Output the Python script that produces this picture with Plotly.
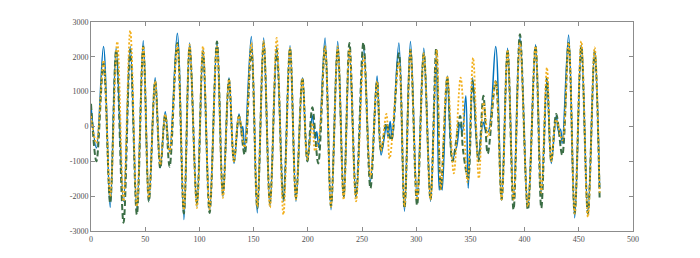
import plotly.graph_objects as go

# Extrema (x, value)
blue_x = [0, 5, 11.5, 17.7, 23.2, 30, 36.2, 42.3, 48.2, 53.4, 59.2, 63.9, 68.5, 72.5,
          79.6, 85.7, 91, 97.7, 103.3, 109.4, 116.2, 121.7, 127.3, 131.9, 136.5, 139, 140, 141.7,
          147.9, 153.4, 159.3, 165.1, 171.3, 177.5, 183.6, 189.1, 195, 199.6, 204.2, 206.7, 208.3, 210,
          215.9, 221.4, 227.6, 233.1, 238.4, 244.5, 251.6, 257.8, 263.9, 267.6, 272.5, 274, 276, 277.8,
          284, 289.2, 294.7, 300.8, 307, 313.2, 318.5, 321.2, 322.6, 324, 328.7, 333.5, 337.5, 340.3, 342.6, 345.8, 348,
          352, 357.2, 361.8, 364, 366.4, 373.3, 378.8, 384.3, 389.8, 395.7, 403, 410.1, 415.4, 420.6, 424.6,
          429.2, 431.3, 433, 434.7, 440.6, 446.2, 452.3, 458.4, 464.6, 469.2]
blue_y = [580, -620, 2300, -2320, 2250, -2150, 2300, -2390, 2460, -2130, 1400, -1185, 420, -730,
          2680, -2670, 2400, -2290, 2200, -2430, 2440, -2010, 1400, -1060, 360, -130, 0, -635,
          2585, -2480, 2540, -2290, 2300, -2150, 2320, -2150, 1400, -1010, 310, -350, -150, -600,
          2540, -2390, 2440, -2035, 2110, -2055, 2250, -1580, 1450, -820, 30, -300, 140, -350,
          2400, -2430, 2440, -2035, 2250, -2150, 2050, -1820, -1500, -1820, 1450, -920, -550, 75, -160, 880, -1770,
          1400, -920, 120, -100, -150, 2300, -2100, 2250, -2010, 2585, -2290, 2350, -1910, 1350, -1060,
          310, -130, -80, -490, 2630, -2620, 2350, -2480, 2200, -1770]

orange_x = [0, 5, 11.5, 17.7, 24.2, 30, 36.2, 42.3, 48.2, 53.4, 59.2, 63.9, 68.5, 72.5,
            79.6, 85.7, 91, 97.7, 103.3, 109.4, 116.2, 121.7, 127.3, 131.9, 136.5, 141.7,
            147.9, 153.4, 159.3, 165.1, 171.3, 177.5, 183.6, 189.1, 195, 199.6, 204.2, 206.7, 210,
            215.9, 221.4, 227.6, 233.1, 238.4, 244.5, 251.6, 257.8, 263.9, 267.6, 272.5, 275.5,
            284, 289.2, 294.7, 300.8, 307, 313.2, 319, 322.7, 328.7, 334.7, 341, 347.4,
            352.5, 357.8, 362.2, 366.4, 373.3, 378.8, 384.3, 389.8, 395.7, 403, 410.1, 415.4, 420.6, 424.6,
            429.2, 434.7, 440.6, 446.2, 452.3, 458.4, 464.6, 469.2]
orange_y = [300, -480, 1900, -2010, 2440, -2150, 2755, -2300, 2300, -2050, 1300, -1100, 350, -750,
            2350, -2400, 2350, -2340, 2300, -2380, 2300, -2050, 1350, -1000, 300, -600,
            2400, -2300, 2450, -2320, 2540, -2530, 2250, -2100, 1350, -950, 100, -700, -400,
            2300, -2300, 2300, -2100, 2200, -2150, 2000, -1450, 1300, -700, 360, -920,
            1850, -2300, 2200, -2100, 2100, -2100, 2200, -1800, 1450, -1345, 1400, -1600,
            1970, -1490, 690, -300, 1300, -2100, 2200, -2100, 2400, -2300, 2300, -1900, 1690, -1000,
            200, -400, 2400, -2500, 2450, -2600, 2270, -1900]

green_x = [0, 5, 11.5, 17.7, 23.2, 30, 36.2, 42.3, 48.2, 53.4, 59.2, 63.9, 68.5, 72.5,
           79.6, 85.7, 91, 97.7, 103.3, 109.4, 116.2, 121.7, 127.3, 131.9, 136.5, 141.7,
           147.9, 153.4, 159.3, 165.1, 171.3, 177.5, 183.6, 189.1, 195, 199.6, 204.2, 209.6,
           215.9, 221.4, 227.6, 233.1, 238.4, 244.5, 251.3, 257.8, 263.9, 267.6, 272.5, 277,
           284, 289.2, 294.7, 300.8, 307, 313.2, 318.5, 322.7, 328.7, 333.5, 340.5, 343.3, 347.9,
           352, 357.5, 362, 366, 373.3, 378.8, 384.3, 389.8, 395.7, 403, 410.1, 415.4, 420.6, 424.6,
           429.2, 434.7, 440.6, 446.2, 452.3, 458.4, 464.6, 469.2]
green_y = [650, -1000, 1800, -2200, 2200, -2765, 2200, -2530, 2300, -2150, 1300, -1200, 350, -1155,
           2400, -2500, 2300, -2200, 2150, -2480, 2440, -1950, 1350, -1000, 300, -805,
           2200, -2350, 2400, -2200, 2200, -2100, 2250, -2050, 1400, -1000, 550, -1060,
           2300, -2300, 2250, -2000, 2400, -2000, 2415, -1770, 1300, -700, 100, -400,
           2100, -2350, 2200, -2260, 2100, -2100, 2250, -1800, 1400, -1000, 300, -700, -1500,
           1300, -1000, 880, -780, 1300, -2100, 2200, -2390, 2650, -2390, 2300, -2340, 1400, -1000,
           360, -820, 2400, -2500, 2300, -2500, 2150, -2050]

x_ticks = [0, 50, 100, 150, 200, 250, 300, 350, 400, 450, 500]
y_ticks = [-3000, -2000, -1000, 0, 1000, 2000, 3000]

fig = go.Figure()
fig.add_trace(go.Scatter(x=blue_x, y=blue_y, mode="lines",
                         line=dict(color="#0072BD", width=1.5, shape="spline", smoothing=1.0)))
fig.add_trace(go.Scatter(x=green_x, y=green_y, mode="lines",
                         line=dict(color="#3B6E45", width=2, dash="6px,3px", shape="spline", smoothing=1.0)))
fig.add_trace(go.Scatter(x=orange_x, y=orange_y, mode="lines",
                         line=dict(color="#F2B01E", width=1.8, dash="2px,2px", shape="spline", smoothing=1.0)))

axis_common = dict(showgrid=False, zeroline=False, showline=True, linecolor="#8c8c8c", linewidth=1,
                   mirror="ticks", ticks="inside", ticklen=4, tickcolor="#8c8c8c",
                   tickfont=dict(family="Liberation Serif", size=8, color="#505050"))
fig.update_xaxes(range=[0, 500], tickvals=x_ticks, ticktext=[str(v) for v in x_ticks], **axis_common)
fig.update_yaxes(range=[-3000, 3000], tickvals=y_ticks, ticktext=[str(v) for v in y_ticks], **axis_common)
# page body has an 8px margin, so offsets are compensated here
fig.update_layout(width=700, height=258, margin=dict(l=83, r=75, t=10, b=35),
                  plot_bgcolor="white", paper_bgcolor="white", showlegend=False)
fig.write_html("out.html")
